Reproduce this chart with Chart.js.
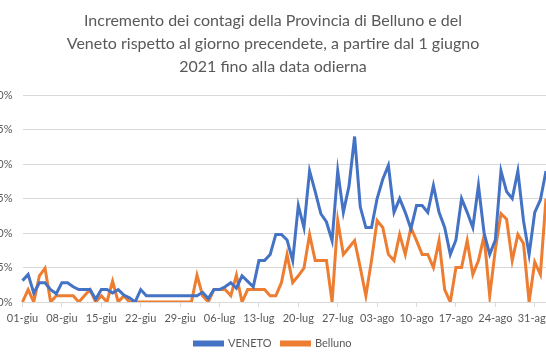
<!DOCTYPE html>
<html>
<head>
<meta charset="utf-8">
<script src="https://cdn.jsdelivr.net/npm/chart.js@4.4.0/dist/chart.umd.min.js"></script>
<style>
  html, body { margin: 0; padding: 0; background: #fff; }
  #wrap { position: relative; width: 546px; height: 364px; overflow: hidden; }
  #myChart { position: absolute; left: -40px; top: 0; }
</style>
</head>
<body>
<div id="wrap">
  <canvas id="myChart" width="640" height="364"></canvas>
</div>
<script>
// months shown on the axis and how many days of each are in the data
const monthNames = ['giu', 'lug', 'ago', 'set']
const monthDays = [30, 31, 31, 2]

// daily increment (%) from 01-giu
const veneto = [
  0.031, 0.040, 0.013, 0.028, 0.028, 0.018, 0.012, 0.028, 0.028, 0.022,
  0.018, 0.018, 0.018, 0.004, 0.018, 0.018, 0.013, 0.018, 0.010, 0.006,
  0.000, 0.018, 0.009, 0.009, 0.009, 0.009, 0.009, 0.009, 0.009, 0.009,
  0.009, 0.009, 0.014, 0.005, 0.018, 0.018, 0.022, 0.028, 0.020, 0.038,
  0.030, 0.022, 0.060, 0.060, 0.069, 0.098, 0.098, 0.090, 0.060, 0.140,
  0.108, 0.190, 0.160, 0.128, 0.116, 0.089, 0.190, 0.130, 0.168, 0.240,
  0.138, 0.108, 0.108, 0.150, 0.178, 0.198, 0.130, 0.150, 0.130, 0.106,
  0.140, 0.140, 0.130, 0.169, 0.130, 0.108, 0.069, 0.090, 0.150, 0.130,
  0.108, 0.169, 0.100, 0.069, 0.090, 0.190, 0.160, 0.150, 0.190, 0.118,
  0.069, 0.130, 0.148, 0.190
]
const belluno = [
  0.000, 0.018, 0.000, 0.038, 0.049, 0.000, 0.009, 0.009, 0.009, 0.009,
  0.000, 0.009, 0.018, 0.000, 0.009, 0.000, 0.030, 0.000, 0.009, 0.000,
  0.000, 0.000, 0.000, 0.000, 0.000, 0.000, 0.000, 0.000, 0.000, 0.000,
  0.000, 0.039, 0.009, 0.000, 0.018, 0.018, 0.018, 0.009, 0.039, 0.000,
  0.018, 0.018, 0.018, 0.018, 0.009, 0.009, 0.028, 0.069, 0.028, 0.038,
  0.049, 0.098, 0.060, 0.060, 0.060, 0.000, 0.118, 0.069, 0.079, 0.089,
  0.050, 0.009, 0.060, 0.118, 0.108, 0.069, 0.060, 0.098, 0.069, 0.108,
  0.089, 0.069, 0.069, 0.050, 0.089, 0.018, 0.000, 0.050, 0.050, 0.089,
  0.040, 0.060, 0.096, 0.009, 0.076, 0.128, 0.120, 0.060, 0.098, 0.085,
  0.000, 0.058, 0.040, 0.150
]

const labels = []
monthNames.forEach((m, i) => {
  for (let d = 1; d <= monthDays[i]; d++) {
    labels.push(String(d).padStart(2, '0') + '-' + m)
  }
})

const grey = '#595959'
const gridGrey = '#d9d9d9'
Chart.defaults.font.family = 'Lato'
Chart.defaults.color = grey

const ctx = document.getElementById('myChart').getContext('2d')

const config = {
  type: 'line',
  data: {
    labels,
    datasets: [
      {
        label: 'VENETO',
        data: veneto,
        borderColor: '#4472C4',
        backgroundColor: '#4472C4',
        borderWidth: 3,
        pointRadius: 0,
        tension: 0,
      },
      {
        label: 'Belluno',
        data: belluno,
        borderColor: '#ED7D31',
        backgroundColor: '#ED7D31',
        borderWidth: 3,
        pointRadius: 0,
        tension: 0,
      },
    ],
  },
  options: {
    responsive: false,
    animation: false,
    // left/right padding so the plot is cut at the window edges like the original
    layout: { padding: { bottom: 5, right: 54, left: 40 } },
    plugins: {
      title: {
        display: true,
        text: [
          'Incremento dei contagi della Provincia di Belluno e del',
          'Veneto rispetto al giorno precendete, a partire dal 1 giugno',
          '2021 fino alla data odierna',
        ],
        color: grey,
        font: { size: 16, weight: 'normal', lineHeight: 1.44 },
        padding: { top: 9, bottom: 17 },
      },
      legend: {
        position: 'bottom',
        labels: {
          boxWidth: 28,
          boxHeight: 3,
          padding: 10,
          color: grey,
          font: { size: 11 },
        },
      },
      tooltip: { enabled: false },
    },
    scales: {
      x: {
        offset: false,
        // one tick a week
        afterBuildTicks: (scale) => {
          scale.ticks = scale.ticks.filter((t, i) => i % 7 === 0)
        },
        afterFit: (scale) => { scale.height = 26 },
        ticks: {
          autoSkip: false,
          maxRotation: 0,
          padding: 5,
          color: grey,
          font: { size: 11 },
        },
        grid: {
          drawOnChartArea: false,
          drawTicks: true,
          tickLength: 5,
          color: gridGrey,
        },
        border: { color: gridGrey },
      },
      y: {
        min: 0,
        max: 0.3,
        afterFit: (scale) => { scale.width = 22.5 },
        ticks: {
          stepSize: 0.05,
          padding: 10,
          color: grey,
          font: { size: 11 },
          callback: (v) => v.toFixed(2).replace('.', ',') + '%',
        },
        grid: { color: gridGrey, drawTicks: false },
        border: { display: false },
      },
    },
  },
}

const myChart = new Chart(ctx, config)
</script>
</body>
</html>
